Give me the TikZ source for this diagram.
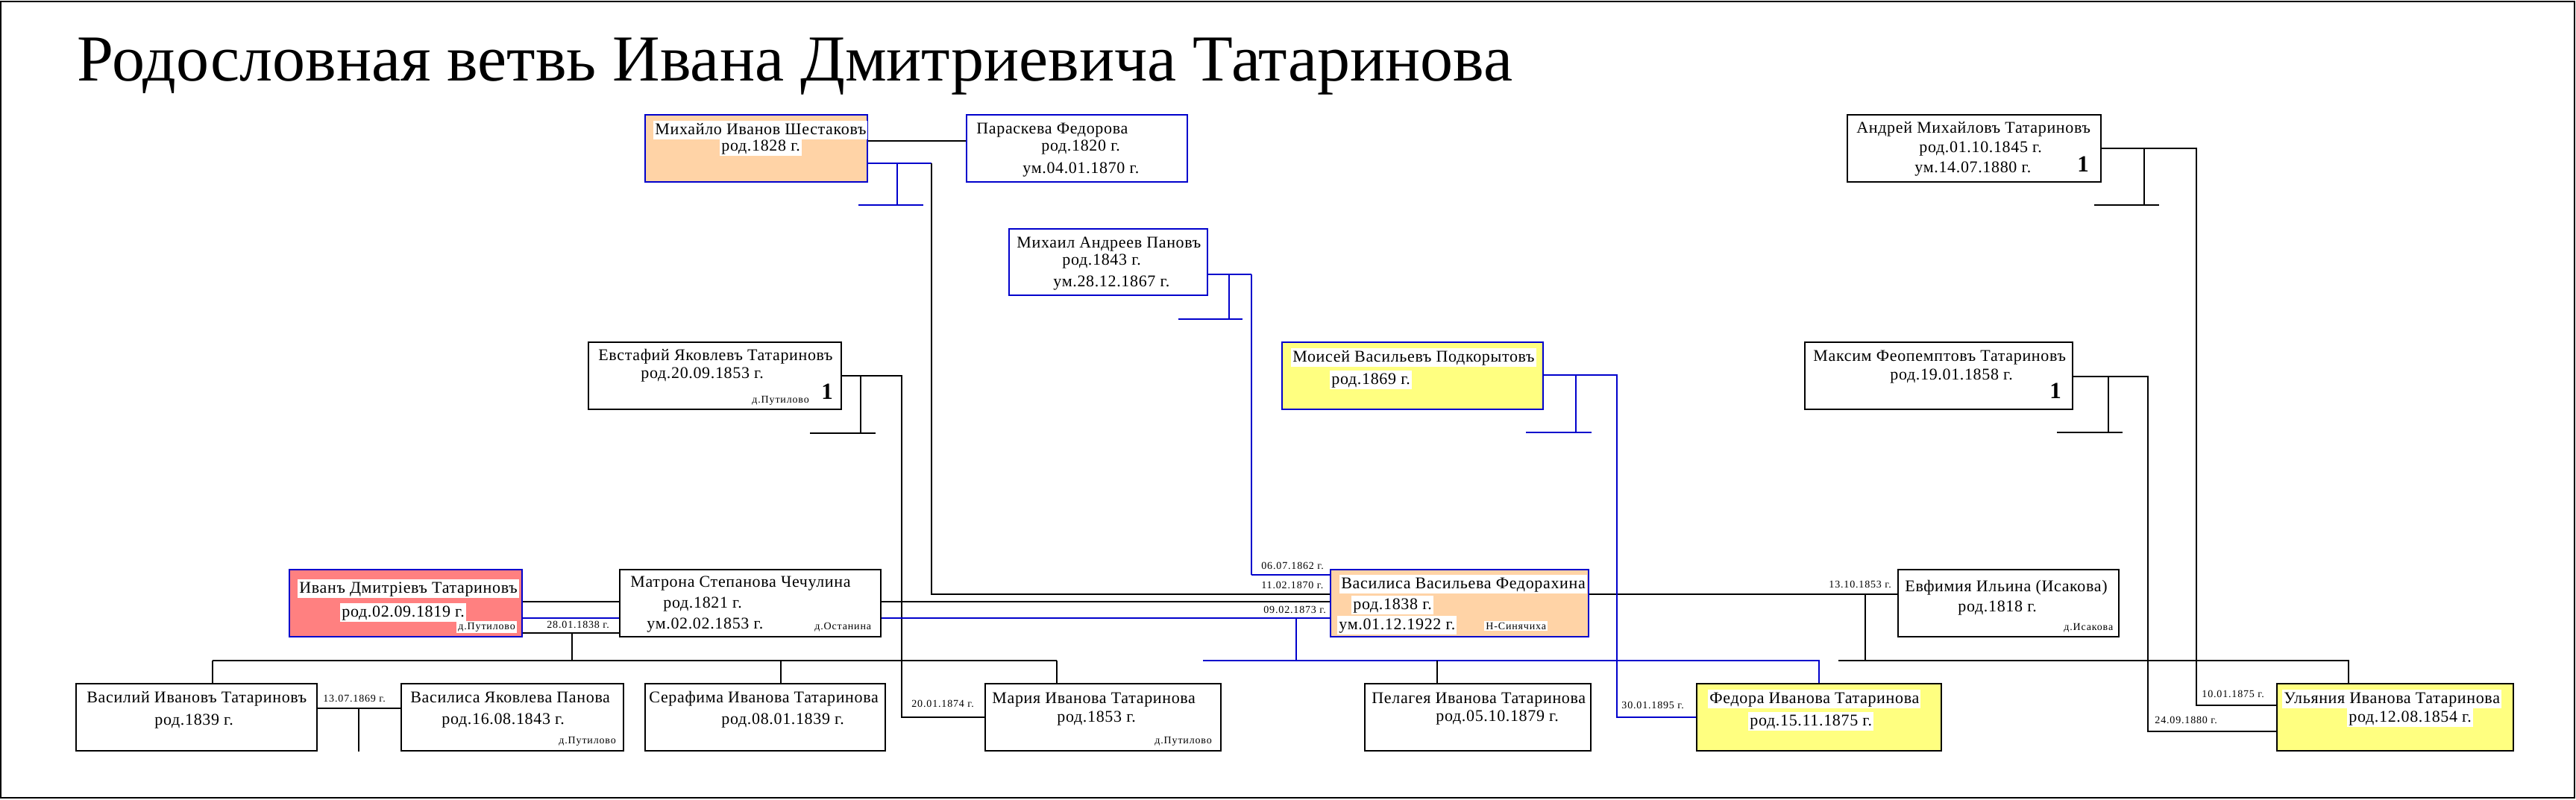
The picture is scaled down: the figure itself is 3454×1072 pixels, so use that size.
\documentclass[tikz,border=0pt]{standalone}
\usepackage{fontspec}
\setmainfont{Liberation Serif}
\newfontfamily\smallsp[LetterSpace=6]{Liberation Serif}
\newfontfamily\boxfont[LetterSpace=3]{Liberation Serif}
\usetikzlibrary{fit,calc}
\definecolor{peach}{HTML}{FFD3A6}
\definecolor{coral}{HTML}{FF8080}
\definecolor{lyellow}{HTML}{FFFF80}
\definecolor{dblue}{HTML}{0000CC}
\pgfdeclarelayer{back}
\pgfdeclarelayer{bg}
\pgfsetlayers{back,bg,main}
\tikzset{
  pbox/.style={draw=black, line width=0.65pt, inner sep=0pt, fill=white},
  bbox/.style={draw=dblue, line width=1.3pt, inner sep=0pt, fill=white},
  txt/.style={anchor=base west, inner sep=0pt, font=\boxfont\fontsize{11}{13}\selectfont},
  hl/.style={txt, fill=white, inner xsep=1pt, inner ysep=0.8pt, text height=8.2pt, text depth=2.6pt},
  place/.style={anchor=base west, inner sep=0pt, font=\smallsp\fontsize{7}{8}\selectfont},
  hlplace/.style={place, fill=white, inner xsep=1pt, inner ysep=1pt},
  datelbl/.style={anchor=base west, inner sep=0pt, font=\smallsp\fontsize{7}{8}\selectfont},
  one/.style={anchor=base west, inner sep=0pt, font=\fontsize{15.5}{16}\selectfont\bfseries},
  conn/.style={line width=0.55pt, black},
  bconn/.style={line width=1.3pt, dblue},
  titlefont/.style={anchor=base west, inner sep=0pt, font=\fontsize{44}{52}\selectfont}
}
\begin{document}
\begin{tikzpicture}[x=0.5pt, y=-0.5pt]
\useasboundingbox (0,0) rectangle (3454,1072);
\begin{pgfonlayer}{back}
\fill[white] (0,0) rectangle (3454,1072);
\draw[line width=0.6pt] (1,2) rectangle (3452,1070);
\end{pgfonlayer}

% title
\node[titlefont] (title) at (103,108) {Родословная ветвь Ивана Дмитриевича Татаринова};

% boxes
\node[bbox, fill=peach, fit={(865,154) (1163,244)}] (mikh) {};
\node[bbox, fit={(1296,154) (1592,244)}] (parask) {};
\node[pbox, fit={(2477,154) (2817,244)}] (andrey) {};
\node[bbox, fit={(1353,307) (1619,396)}] (panov) {};
\node[pbox, fit={(789,459) (1128,549)}] (evst) {};
\node[bbox, fill=lyellow, fit={(1719,459) (2069,549)}] (moisey) {};
\node[pbox, fit={(2420,459) (2779,549)}] (maksim) {};
\node[bbox, fill=coral, fit={(388,764) (700,854)}] (ivan) {};
\node[pbox, fit={(831,764) (1181,854)}] (matrona) {};
\node[bbox, fill=peach, fit={(1784,764) (2130,854)}] (vasf) {};
\node[pbox, fit={(2545,764) (2841,854)}] (evf) {};
\node[pbox, fit={(102,917) (425,1007)}] (vasiliy) {};
\node[pbox, fit={(538,917) (836,1007)}] (vaspan) {};
\node[pbox, fit={(865,917) (1187,1007)}] (seraf) {};
\node[pbox, fit={(1321,917) (1637,1007)}] (mariya) {};
\node[pbox, fit={(1830,917) (2133,1007)}] (pelag) {};
\node[pbox, fill=lyellow, fit={(2275,917) (2603,1007)}] (fedora) {};
\node[pbox, fill=lyellow, fit={(3053,917) (3370,1007)}] (ulyana) {};

% texts
\node[hl] (t1) at (876,180) {Михайло Иванов Шестаковъ};
\node[hl] (t2) at (965,202) {род.1828 г.};
\node[txt] (t3) at (1309,179) {Параскева Федорова};
\node[txt] (t4) at (1396,202) {род.1820 г.};
\node[txt] (t5) at (1371,232) {ум.04.01.1870 г.};
\node[txt] (t6) at (1363,332) {Михаил Андреев Пановъ};
\node[txt] (t7) at (1424,355) {род.1843 г.};
\node[txt] (t8) at (1412,384) {ум.28.12.1867 г.};
\node[txt] (t9) at (2489,178) {Андрей Михайловъ Татариновъ};
\node[txt] (t10) at (2573,204) {род.01.10.1845 г.};
\node[txt] (t11) at (2567,231) {ум.14.07.1880 г.};
\node[one] (t12) at (2785,230) {1};
\node[txt] (t13) at (802,483) {Евстафий Яковлевъ Татариновъ};
\node[txt] (t14) at (859,507) {род.20.09.1853 г.};
\node[place] (t15) at (1008,540) {д.Путилово};
\node[one] (t16) at (1101,535) {1};
\node[hl] (t17) at (1731,485) {Моисей Васильевъ Подкорытовъ};
\node[hl] (t18) at (1783,515) {род.1869 г.};
\node[txt] (t19) at (2431,484) {Максим Феопемптовъ Татариновъ};
\node[txt] (t20) at (2534,509) {род.19.01.1858 г.};
\node[one] (t21) at (2748,534) {1};
\node[hl] (t22) at (399,795) {Иванъ Дмитрiевъ Татариновъ};
\node[hl] (t23) at (456,827) {род.02.09.1819 г.};
\node[hlplace] (t24) at (612,844) {д.Путилово};
\node[txt] (t25) at (845,787) {Матрона Степанова Чечулина};
\node[txt] (t26) at (889,815) {род.1821 г.};
\node[txt] (t27) at (867,843) {ум.02.02.1853 г.};
\node[place] (t28) at (1092,844) {д.Останина};
\node[hl] (t29) at (1796,789) {Василиса Васильева Федорахина};
\node[hl] (t30) at (1812,817) {род.1838 г.};
\node[hl] (t31) at (1793,844) {ум.01.12.1922 г.};
\node[hlplace] (t32) at (1990,844) {Н-Синячиха};
\node[txt] (t33) at (2554,793) {Евфимия Ильина (Исакова)};
\node[txt] (t34) at (2625,820) {род.1818 г.};
\node[place] (t35) at (2767,845) {д.Исакова};
\node[txt] (t36) at (116,942) {Василий Ивановъ Татариновъ};
\node[txt] (t37) at (207,972) {род.1839 г.};
\node[txt] (t38) at (550,942) {Василиса Яковлева Панова};
\node[txt] (t39) at (592,971) {род.16.08.1843 г.};
\node[place] (t40) at (749,997) {д.Путилово};
\node[txt] (t41) at (870,942) {Серафима Иванова Татаринова};
\node[txt] (t42) at (967,971) {род.08.01.1839 г.};
\node[txt] (t43) at (1330,943) {Мария Иванова Татаринова};
\node[txt] (t44) at (1417,968) {род.1853 г.};
\node[place] (t45) at (1548,997) {д.Путилово};
\node[txt] (t46) at (1839,943) {Пелагея Иванова Татаринова};
\node[txt] (t47) at (1925,967) {род.05.10.1879 г.};
\node[hl] (t48) at (2290,943) {Федора Иванова Татаринова};
\node[hl] (t49) at (2344,973) {род.15.11.1875 г.};
\node[hl] (t50) at (3060,943) {Ульяния Иванова Татаринова};
\node[hl] (t51) at (3147,968) {род.12.08.1854 г.};

% date labels
\node[datelbl] (d1) at (733,842) {28.01.1838 г.};
\node[datelbl] (d2) at (433,941) {13.07.1869 г.};
\node[datelbl] (d3) at (1222,948) {20.01.1874 г.};
\node[datelbl] (d4) at (1691,763) {06.07.1862 г.};
\node[datelbl] (d5) at (1691,789) {11.02.1870 г.};
\node[datelbl] (d6) at (1694,822) {09.02.1873 г.};
\node[datelbl] (d7) at (2174,950) {30.01.1895 г.};
\node[datelbl] (d8) at (2452,788) {13.10.1853 г.};
\node[datelbl] (d9) at (2952,935) {10.01.1875 г.};
\node[datelbl] (d10) at (2889,970) {24.09.1880 г.};

% junction coordinates
\coordinate (mp) at (1230,189);
\coordinate (mk) at (1249,219);
\coordinate (mkT) at (1203,275);
\coordinate (ml) at (1249,797);
\coordinate (pk) at (1678,368);
\coordinate (pkT) at (1648,428);
\coordinate (pl) at (1678,771);
\coordinate (ek) at (1209,504);
\coordinate (ekT) at (1154,581);
\coordinate (el) at (1209,962);
\coordinate (mok) at (2168,503);
\coordinate (mokT) at (2113,580);
\coordinate (mol) at (2168,962);
\coordinate (mak) at (2880,505);
\coordinate (makT) at (2827,580);
\coordinate (mal) at (2880,981);
\coordinate (ak) at (2945,199);
\coordinate (akT) at (2875,275);
\coordinate (al) at (2945,946);
\coordinate (iy1) at (760,807);
\coordinate (iy2) at (760,829);
\coordinate (iy3) at (767,849);
\coordinate (ic) at (767,886);
\coordinate (cL) at (285,886);
\coordinate (cS) at (1047,886);
\coordinate (cR) at (1417,886);
\coordinate (vv) at (481,950);
\coordinate (fb) at (1738,829);
\coordinate (fc) at (1738,886);
\coordinate (fL) at (1613,886);
\coordinate (fP) at (1927,886);
\coordinate (fR) at (2439,886);
\coordinate (ev) at (2501,797);
\coordinate (evc) at (2501,886);
\coordinate (evL) at (2465,886);
\coordinate (evR) at (3149,886);

\begin{pgfonlayer}{bg}
% Mikhailo
\draw[conn] (mikh.east |- mp) -- (parask.west |- mp);
\draw[bconn] (mikh.east |- mk) -- (mk);
\draw[bconn] (mkT |- mk) -- (mkT) ($(mkT)+(-52,0)$) -- ($(mkT)+(35,0)$);
\draw[conn] (mk) -- (ml) -- (evf.west |- ml);
% Panov
\draw[bconn] (panov.east |- pk) -- (pk);
\draw[dblue, line width=0.8pt] (pk) -- (pl);
\draw[bconn] (pl) -- (vasf.west |- pl);
\draw[bconn] (pkT |- pk) -- (pkT) ($(pkT)+(-68,0)$) -- ($(pkT)+(18,0)$);
% Evstafiy
\draw[conn] (evst.east |- ek) -- (ek) -- (el) -- (mariya.west |- el);
\draw[conn] (ekT |- ek) -- (ekT) ($(ekT)+(-68,0)$) -- ($(ekT)+(20,0)$);
% Moisey
\draw[bconn] (moisey.east |- mok) -- (mok) -- (mol) -- (fedora.west |- mol);
\draw[bconn] (mokT |- mok) -- (mokT) ($(mokT)+(-67,0)$) -- ($(mokT)+(21,0)$);
% Maksim
\draw[conn] (maksim.east |- mak) -- (mak) -- (mal) -- (ulyana.west |- mal);
\draw[conn] (makT |- mak) -- (makT) ($(makT)+(-69,0)$) -- ($(makT)+(19,0)$);
% Andrey
\draw[conn] (andrey.east |- ak) -- (ak) -- (al) -- (ulyana.west |- al);
\draw[conn] (akT |- ak) -- (akT) ($(akT)+(-67,0)$) -- ($(akT)+(20,0)$);
% Ivan
\draw[conn] (ivan.east |- iy1) -- (vasf.west |- iy1);
\draw[bconn] (ivan.east |- iy2) -- (vasf.west |- iy2);
\draw[conn] (ivan.east |- iy3) -- (matrona.west |- iy3);
\draw[conn] (iy3) -- (ic);
\draw[conn] (cL) -- (cR);
\draw[conn] (cL) -- (cL |- vasiliy.north);
\draw[conn] (cS) -- (cS |- seraf.north);
\draw[conn] (cR) -- (cR |- mariya.north);
% Vasiliy - Vasilisa Panova
\draw[conn] (vasiliy.east |- vv) -- (vaspan.west |- vv);
\draw[conn] (vv) -- (vv |- vaspan.south);
% Ivan + Vasilisa F children
\draw[bconn] (fb) -- (fc);
\draw[bconn] (fL) -- (fR) -- (fR |- fedora.north);
\draw[conn] (fP) -- (fP |- pelag.north);
% Evfimiya children
\draw[conn] (ev) -- (evc);
\draw[conn] (evL) -- (evR) -- (evR |- ulyana.north);
\end{pgfonlayer}
\end{tikzpicture}
\end{document}
